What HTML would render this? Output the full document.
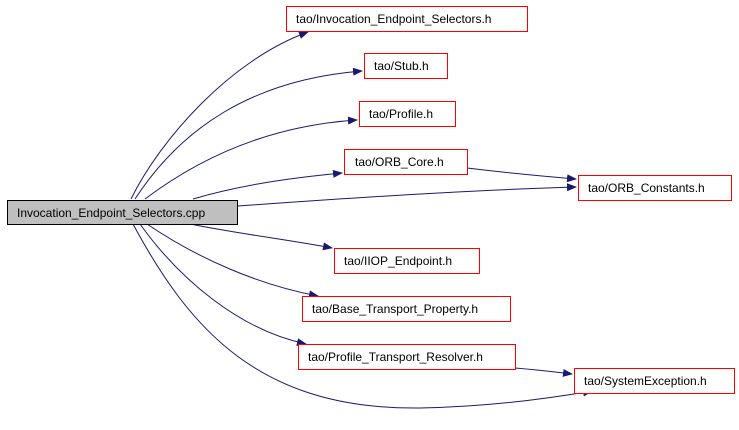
<!DOCTYPE html>
<html><head><meta charset="utf-8"><style>
body{margin:0;background:#fff;width:739px;height:425px;overflow:hidden}
svg text{font-family:"Liberation Sans",sans-serif;font-size:12px;fill:#000}
</style></head><body>
<svg width="739" height="425" viewBox="0 0 739 425" xmlns="http://www.w3.org/2000/svg">
<defs><marker id="a" markerWidth="10" markerHeight="8" refX="9" refY="4" orient="auto" markerUnits="userSpaceOnUse"><path d="M0,0 L10,4 L0,8 z" fill="#191970"/></marker></defs>
<g fill="none" stroke="#191970" stroke-width="1" marker-end="url(#a)">
<path d="M131,199 C160,140 230,60 308,32"/>
<path d="M135,199 C180,130 250,80 362,71"/>
<path d="M145,199 C210,150 280,125 357,120"/>
<path d="M193,199 C240,185 290,178 342,173"/>
<path d="M238,206 C350,198 470,190 576,187"/>
<path d="M467,168 C500,172 540,176 576,179"/>
<path d="M190,224 C240,234 290,240 332,248"/>
<path d="M147,224 C200,260 260,285 318,296"/>
<path d="M140,224 C180,280 240,330 306,344"/>
<path d="M133,224 C190,330 260,410 420,408 C480,407 540,400 592,391"/>
<path d="M515,368 C540,370 555,372 572,374"/>
</g>
<rect x="7.5" y="200.5" width="230" height="24" fill="#bfbfbf" stroke="#000"/>
<text x="17" y="217">Invocation_Endpoint_Selectors.cpp</text>
<g fill="#fff" stroke="#f00">
<rect x="286.5" y="6.5" width="241" height="25"/>
<rect x="364.5" y="53.5" width="83" height="25"/>
<rect x="359.5" y="101.5" width="96" height="25"/>
<rect x="344.5" y="149.5" width="123" height="25"/>
<rect x="578.5" y="175.5" width="153" height="25"/>
<rect x="334.5" y="248.5" width="145" height="25"/>
<rect x="302.5" y="296.5" width="208" height="25"/>
<rect x="298.5" y="344.5" width="217" height="25"/>
<rect x="574.5" y="368.5" width="160" height="25"/>
</g>
<text x="296" y="23">tao/Invocation_Endpoint_Selectors.h</text>
<text x="374" y="70">tao/Stub.h</text>
<text x="369" y="118">tao/Profile.h</text>
<text x="355" y="166">tao/ORB_Core.h</text>
<text x="588" y="192">tao/ORB_Constants.h</text>
<text x="344" y="265">tao/IIOP_Endpoint.h</text>
<text x="312" y="313">tao/Base_Transport_Property.h</text>
<text x="308" y="361">tao/Profile_Transport_Resolver.h</text>
<text x="584" y="385">tao/SystemException.h</text>
</svg>
</body></html>
